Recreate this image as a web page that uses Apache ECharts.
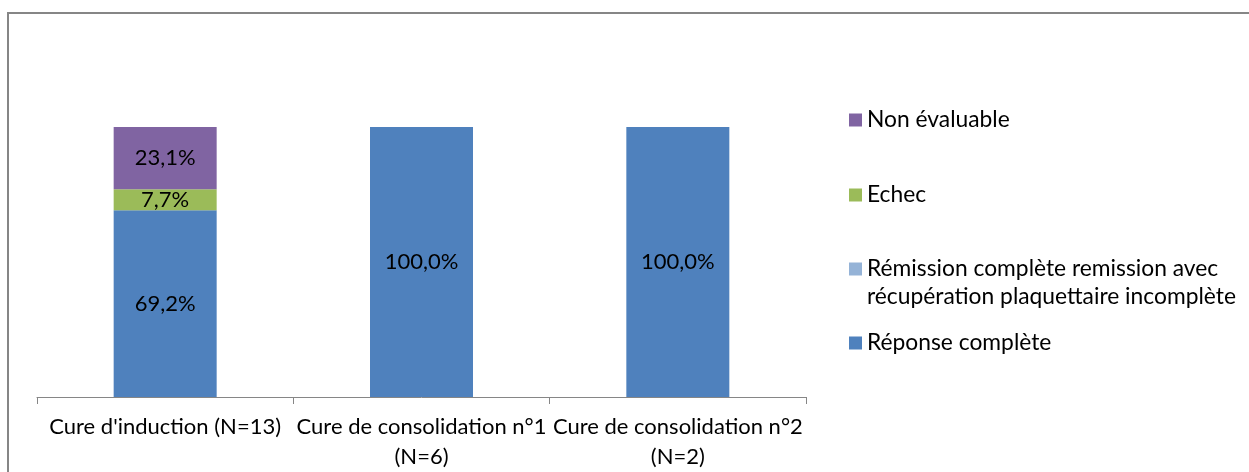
<!DOCTYPE html>
<html>
<head>
<meta charset="utf-8">
<script src="https://cdn.jsdelivr.net/npm/echarts@6/dist/echarts.min.js"></script>
<style>
  html, body { margin: 0; padding: 0; background: #fff; }
</style>
</head>
<body>
<div id="myChart" style="width: 1249px; height: 472px;"></div>
<script>
  // catégories (axe x)
  var categories = ['Cure d\'induction (N=13)', 'Cure de consolidation n°1\n(N=6)', 'Cure de consolidation n°2\n(N=2)']
  // séries, du bas vers le haut de la pile
  var seriesNames = [
    'Réponse complète',
    'Rémission complète remission avec récupération plaquettaire incomplète',
    'Echec',
    'Non évaluable'
  ]
  var reponseComplete = [69.2, 100.0, 100.0]
  var remissionIncomplete = [0, 0, 0]
  var echec = [7.7, 0, 0]
  var nonEvaluable = [23.1, 0, 0]
  var colors = ['#4F81BD', '#95B3D7', '#9BBB59', '#8064A2']

  var font = 'Lato'
  var values = [reponseComplete, remissionIncomplete, echec, nonEvaluable]

  var series = seriesNames.map(function (name, i) {
    return {
      name: name,
      type: 'bar',
      stack: 'total',
      barWidth: 103,
      itemStyle: { color: colors[i] },
      label: {
        show: true,
        position: 'inside',
        color: '#000',
        fontFamily: font,
        fontSize: 22,
        formatter: function (p) {
          if (!p.value) return ''
          return p.value.toFixed(1).replace('.', ',') + '%'
        }
      },
      data: values[i]
    }
  })

  // une légende par entrée, pour garder l'espacement irrégulier
  var legendTops = [106, 181, 255, 329]
  var legendOrder = [3, 2, 1, 0]
  var legends = legendOrder.map(function (idx, k) {
    var lg = {
      data: [seriesNames[idx]],
      left: 849,
      top: legendTops[k],
      orient: 'vertical',
      icon: 'rect',
      itemWidth: 13,
      itemHeight: 13,
      itemGap: 0,
      selectedMode: false,
      padding: 0,
      textStyle: { fontFamily: font, fontSize: 22.8, color: '#000', lineHeight: 28 }
    }
    if (idx === 1) {
      lg.formatter = function (n) {
        return n.replace(' récupération', '\nrécupération')
      }
      lg.icon = 'path://M0,0 H13 V13 H0 Z M0,40.99 H0.01 V41 H0 Z'
      lg.itemHeight = 41
    }
    return lg
  })

  var chart = echarts.init(document.getElementById('myChart'))
  chart.setOption({
    animation: false,
    graphic: [{
      type: 'rect',
      shape: { x: 8, y: 13, width: 1400, height: 600 },
      style: { fill: 'none', stroke: '#868686', lineWidth: 2 },
      silent: true
    }],
    legend: legends,
    grid: { left: 37, right: 443, top: 127, bottom: 74 },
    xAxis: {
      type: 'category',
      data: categories,
      axisLine: { lineStyle: { color: '#868686', width: 1 } },
      axisTick: { show: true, length: 7, lineStyle: { color: '#868686' } },
      axisLabel: {
        color: '#000',
        fontFamily: font,
        fontSize: 22,
        lineHeight: 30,
        margin: 15,
        interval: 0
      }
    },
    yAxis: {
      type: 'value',
      min: 0,
      max: 100,
      show: false
    },
    series: series
  })
</script>
</body>
</html>
